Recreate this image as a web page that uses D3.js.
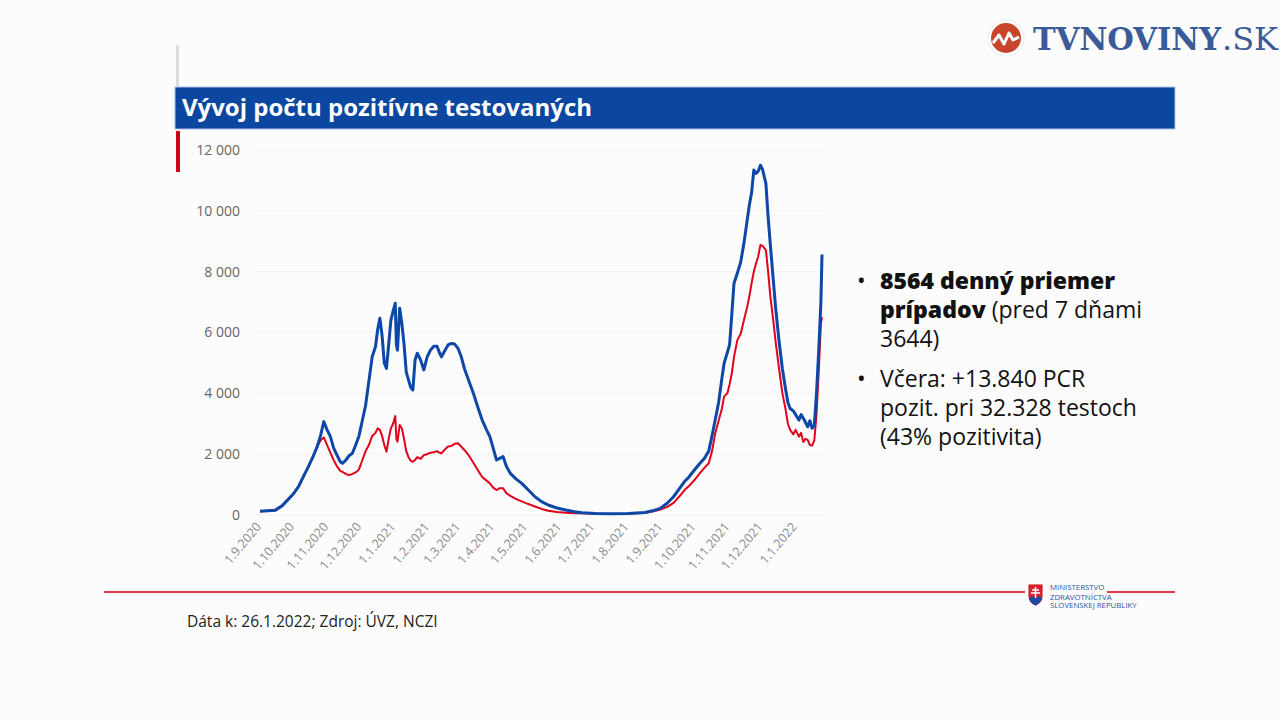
<!DOCTYPE html>
<html>
<head>
<meta charset="utf-8">
<script src="https://cdn.jsdelivr.net/npm/d3@7"></script>
<style>
  body { margin: 0; background: #fff; }
  svg { display: block; }
</style>
</head>
<body>
<svg id="chart" width="1280" height="720"></svg>
<script>
// dates of the readings (7-day averages)
const dates = [
  "2020-09-01","2020-09-08","2020-09-15","2020-09-21","2020-09-26","2020-10-01","2020-10-06","2020-10-11",
  "2020-10-15","2020-10-19","2020-10-23","2020-10-26","2020-10-29","2020-11-01","2020-11-04","2020-11-07",
  "2020-11-10","2020-11-13","2020-11-15","2020-11-18","2020-11-21","2020-11-24","2020-11-27","2020-11-30",
  "2020-12-03","2020-12-06","2020-12-09","2020-12-12","2020-12-15","2020-12-17","2020-12-19","2020-12-21",
  "2020-12-23","2020-12-25","2020-12-27","2020-12-29","2020-12-31","2021-01-02","2021-01-03","2021-01-04",
  "2021-01-06","2021-01-08","2021-01-10","2021-01-12","2021-01-14","2021-01-16","2021-01-18","2021-01-20",
  "2021-01-22","2021-01-25","2021-01-28","2021-01-31","2021-02-03","2021-02-06","2021-02-09","2021-02-11",
  "2021-02-13","2021-02-16","2021-02-19","2021-02-22","2021-02-25","2021-02-28","2021-03-03","2021-03-06",
  "2021-03-10","2021-03-14","2021-03-18","2021-03-22","2021-03-26","2021-03-29","2021-04-01","2021-04-04",
  "2021-04-07","2021-04-10","2021-04-13","2021-04-17","2021-04-22","2021-04-27","2021-05-03","2021-05-09",
  "2021-05-15","2021-05-21","2021-05-29","2021-06-06","2021-06-14","2021-06-21","2021-07-03","2021-07-18",
  "2021-08-02","2021-08-17","2021-08-25","2021-08-31","2021-09-06","2021-09-12","2021-09-18","2021-09-22",
  "2021-09-26","2021-10-01","2021-10-06","2021-10-10","2021-10-14","2021-10-17","2021-10-20","2021-10-23",
  "2021-10-26","2021-10-28","2021-10-31","2021-11-02","2021-11-04","2021-11-06","2021-11-09","2021-11-12",
  "2021-11-15","2021-11-18","2021-11-20","2021-11-22","2021-11-24","2021-11-26","2021-11-28","2021-11-30",
  "2021-12-02","2021-12-05","2021-12-07","2021-12-09","2021-12-12","2021-12-14","2021-12-17","2021-12-20",
  "2021-12-23","2021-12-25","2021-12-27","2021-12-30","2022-01-01","2022-01-04","2022-01-06","2022-01-08",
  "2022-01-10","2022-01-12","2022-01-14","2022-01-16","2022-01-18","2022-01-20","2022-01-22","2022-01-24",
  "2022-01-25"
];

// blue line - all positives
const blueValues = [
  120,140,160,300,490,680,930,1300,
  1590,1900,2250,2600,3070,2800,2575,2200,
  1970,1750,1700,1800,1950,2030,2300,2600,
  3100,3600,4400,5200,5530,6100,6470,5900,
  5000,4820,5600,6400,6700,6960,5600,5420,
  6800,6300,5600,4700,4440,4200,4110,5100,
  5320,5100,4770,5200,5420,5550,5550,5350,
  5200,5400,5590,5640,5620,5480,5200,4800,
  4400,4000,3550,3120,2800,2575,2200,1810,
  1860,1920,1600,1350,1180,1040,820,600,
  440,330,230,165,110,77,50,40,
  50,80,150,220,380,600,900,1100,
  1250,1480,1700,1860,2100,2600,3150,3700,
  4500,4990,5350,5600,6600,7620,7950,8300,
  8930,9700,10200,10600,11340,11230,11300,11500,
  11350,10900,9800,8900,7600,6740,5700,4800,
  4110,3700,3500,3420,3300,3120,3300,3180,
  3050,2900,3100,2850,2950,4000,5400,7000,
  8564
];

// red line - PCR positives
const redValues = [
  120,140,160,300,490,680,930,1300,
  1590,1900,2250,2450,2550,2300,2050,1800,
  1600,1450,1420,1350,1310,1350,1400,1500,
  1800,2100,2300,2600,2700,2850,2800,2600,
  2300,2080,2500,2850,3000,3250,2500,2410,
  2960,2850,2500,2100,1900,1780,1750,1810,
  1900,1850,1970,2000,2050,2060,2100,2050,
  2030,2150,2250,2270,2340,2360,2250,2130,
  1950,1720,1480,1250,1130,1040,900,820,
  880,880,720,620,520,450,360,280,
  200,140,95,75,60,55,45,35,
  45,70,120,180,260,400,640,820,
  950,1150,1380,1550,1700,2100,2700,3100,
  3500,3900,4000,4300,4660,5200,5750,5950,
  6400,6850,7200,7620,8000,8270,8500,8880,
  8850,8710,8000,7200,6300,5640,4800,4000,
  3450,3000,2800,2650,2800,2575,2700,2400,
  2500,2470,2300,2280,2450,3300,4700,6300,
  6500
];

const yTicks = [0, 2000, 4000, 6000, 8000, 10000, 12000];
const xTickDates = [
  "2020-09-01","2020-10-01","2020-11-01","2020-12-01","2021-01-01","2021-02-01","2021-03-01",
  "2021-04-01","2021-05-01","2021-06-01","2021-07-01","2021-08-01","2021-09-01","2021-10-01",
  "2021-11-01","2021-12-01","2022-01-01"
];

const titleText = "Vývoj počtu pozitívne testovaných";
const footerText = "Dáta k: 26.1.2022; Zdroj: ÚVZ, NCZI";

const parse = d3.timeParse("%Y-%m-%d");
const rows = dates.map((d, i) => ({ date: parse(d), blue: blueValues[i], red: redValues[i] }));

const svg = d3.select("#chart");

// faint background
svg.append("rect").attr("width", 1280).attr("height", 720).attr("fill", "#fcfcfc");

// header parts
svg.append("rect").attr("x", 176).attr("y", 45).attr("width", 3).attr("height", 41).attr("fill", "#dcdcdc");
svg.append("rect").attr("x", 175).attr("y", 87).attr("width", 1000).attr("height", 42)
  .attr("fill", "#0b47a1").attr("stroke", "#a9c0e6").attr("stroke-width", 1);
svg.append("text").attr("x", 182).attr("y", 116)
  .attr("font-family", "'Open Sans', sans-serif").attr("font-weight", 700).attr("font-size", 23.5)
  .attr("fill", "#fff").attr("textLength", 410).attr("lengthAdjust", "spacingAndGlyphs").text(titleText);
svg.append("rect").attr("x", 176).attr("y", 131).attr("width", 4).attr("height", 41).attr("fill", "#d0021b");

// chart area
const margin = { left: 260, right: 822, top: 150, bottom: 515 };
const x = d3.scaleTime()
  .domain([parse("2020-09-01"), parse("2022-01-25")])
  .range([margin.left, margin.right]);
const y = d3.scaleLinear()
  .domain([0, 12000])
  .range([margin.bottom, margin.top]);

const g = svg.append("g");

// grid lines
g.selectAll(".grid")
  .data(yTicks)
  .enter().append("line")
  .attr("class", "grid")
  .attr("x1", 256).attr("x2", 824)
  .attr("y1", d => y(d)).attr("y2", d => y(d))
  .attr("stroke", "#f0f0f0").attr("stroke-width", 1);

// y axis
const yAxis = g.append("g")
  .attr("transform", "translate(240,0)")
  .call(d3.axisLeft(y).tickValues(yTicks).tickSize(0).tickPadding(0)
    .tickFormat(d => d3.format(",")(d).replace(/,/g, " ")));
yAxis.select(".domain").remove();
yAxis.selectAll("text")
  .attr("font-family", "'Open Sans', sans-serif").attr("font-size", 14)
  .attr("fill", "#666");

// x axis
const xAxis = g.append("g")
  .attr("transform", "translate(0,522)")
  .call(d3.axisBottom(x).tickValues(xTickDates.map(parse)).tickSize(0).tickPadding(0)
    .tickFormat(d3.timeFormat("%-d.%-m.%Y")));
xAxis.select(".domain").remove();
xAxis.selectAll("text")
  .attr("font-family", "'Open Sans', sans-serif").attr("font-size", 12.5)
  .attr("fill", "#8a8a8a")
  .attr("transform", "rotate(-50)")
  .attr("x", -3).attr("y", 0).attr("dy", ".35em")
  .style("text-anchor", "end");

// lines
const redLine = d3.line().x(d => x(d.date)).y(d => y(d.red));
const blueLine = d3.line().x(d => x(d.date)).y(d => y(d.blue));

g.append("path")
  .datum(rows)
  .attr("fill", "none")
  .attr("stroke", "#e2001a")
  .attr("stroke-width", 2)
  .attr("stroke-linejoin", "round")
  .attr("d", redLine);

g.append("path")
  .datum(rows)
  .attr("fill", "none")
  .attr("stroke", "#0d47a8")
  .attr("stroke-width", 3)
  .attr("stroke-linejoin", "round")
  .attr("d", blueLine);

// bullet text
const bullet = svg.append("g")
  .attr("font-family", "'Open Sans', sans-serif").attr("font-size", 23).attr("fill", "#111");
const lines1 = [
  [{ t: "8564 denný priemer", b: true }],
  [{ t: "prípadov", b: true }, { t: " (pred 7 dňami", b: false }],
  [{ t: "3644)", b: false }]
];
const lines2 = [
  [{ t: "Včera: +13.840 PCR", b: false }],
  [{ t: "pozit. pri 32.328 testoch", b: false }],
  [{ t: "(43% pozitivita)", b: false }]
];
function block(lines, y0) {
  bullet.append("text").attr("x", 857).attr("y", y0).text("•");
  lines.forEach((ln, i) => {
    const t = bullet.append("text").attr("x", 880).attr("y", y0 + i * 29);
    ln.forEach(s => t.append("tspan").attr("font-weight", s.b ? 800 : 400).text(s.t));
  });
}
block(lines1, 289);
block(lines2, 387);

// footer
svg.append("line").attr("x1", 104).attr("x2", 1175).attr("y1", 592).attr("y2", 592)
  .attr("stroke", "#e23a4c").attr("stroke-width", 2);
svg.append("text").attr("x", 187).attr("y", 627)
  .attr("font-family", "'Open Sans', sans-serif").attr("font-size", 15.5)
  .attr("fill", "#222").text(footerText);

// ministry logo
const mz = svg.append("g").attr("transform", "translate(1028,584)");
mz.append("rect").attr("x", -3).attr("y", 0).attr("width", 82).attr("height", 28).attr("fill", "#fcfcfc");
mz.append("path").attr("d", "M0,0 H15 V12 Q15,19 7.5,22 Q0,19 0,12 Z").attr("fill", "#d7202b").attr("stroke", "#fff").attr("stroke-width", 0.8);
mz.append("path").attr("d", "M1,14 Q4,11 7.5,14 Q11,11 14,14 Q13,19 7.5,21.5 Q2,19 1,14 Z").attr("fill", "#1b49a6");
mz.append("path").attr("d", "M7.5,3 V14 M4,6 H11 M3,9 H12").attr("stroke", "#fff").attr("stroke-width", 1.5);
const mzText = mz.append("g").attr("font-family", "'Open Sans', sans-serif").attr("font-size", 7.8).attr("fill", "#2753a6");
mzText.append("text").attr("x", 22).attr("y", 6).text("MINISTERSTVO");
mzText.append("text").attr("x", 22).attr("y", 16).text("ZDRAVOTNÍCTVA");
mzText.append("text").attr("x", 22).attr("y", 24).text("SLOVENSKEJ REPUBLIKY");

// tv logo
const tv = svg.append("g");
tv.append("circle").attr("cx", 1006).attr("cy", 38).attr("r", 19).attr("fill", "#f3f3f3");
tv.append("circle").attr("cx", 1006).attr("cy", 38).attr("r", 16).attr("fill", "#c8452c").attr("stroke", "#fff").attr("stroke-width", 2);
tv.append("path").attr("d", "M993,43 L999,35 L1004,44 L1009,33 L1013,40 L1019,37")
  .attr("fill", "none").attr("stroke", "#fff").attr("stroke-width", 3).attr("stroke-linejoin", "round");
tv.append("text").attr("x", 1033).attr("y", 50)
  .attr("font-family", "'DejaVu Serif', serif").attr("font-weight", 700).attr("font-size", 31)
  .attr("fill", "#3a5b98").attr("textLength", 188).attr("lengthAdjust", "spacingAndGlyphs").text("TVNOVINY");
tv.append("text").attr("x", 1222).attr("y", 50)
  .attr("font-family", "'DejaVu Serif', serif").attr("font-size", 31)
  .attr("fill", "#3a5b98").attr("textLength", 56).attr("lengthAdjust", "spacingAndGlyphs").text(".SK");
</script>
</body>
</html>
